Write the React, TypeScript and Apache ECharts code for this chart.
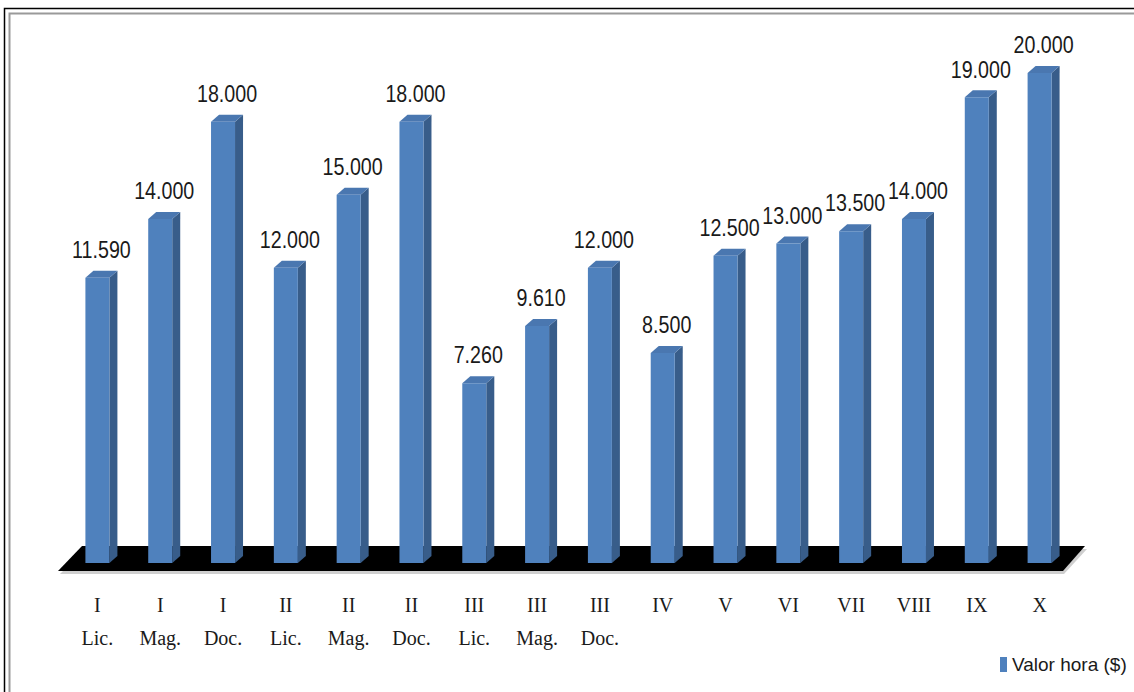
import React, { useEffect, useRef } from "react";
import * as echarts from "echarts";

const categories: string[] = [
  "I\nLic.", "I\nMag.", "I\nDoc.",
  "II\nLic.", "II\nMag.", "II\nDoc.",
  "III\nLic.", "III\nMag.", "III\nDoc.",
  "IV", "V", "VI", "VII", "VIII", "IX", "X",
];
const values: number[] = [
  11590, 14000, 18000,
  12000, 15000, 18000,
  7260, 9610, 12000,
  8500, 12500, 13000, 13500, 14000, 19000, 20000,
];
const seriesName = "Valor hora ($)";

function fmt(v: number): string {
  const th = Math.floor(v / 1000);
  const rest = String(v % 1000).padStart(3, "0");
  return th > 0 ? `${th}.${rest}` : String(v);
}

const FRONT = "#4F81BD";
const SIDE = "#385D8A";
const TOP = "#4A77B0";
const SANS = "'Liberation Sans', Arial, sans-serif";

export default function App() {
  const ref = useRef<HTMLDivElement>(null);
  useEffect(() => {
    if (!ref.current) return;
    const chart = echarts.init(ref.current, undefined, { renderer: "svg" });
    const option: any = {
      animation: false,
      backgroundColor: "#ffffff",
      grid: { left: 66, right: 63, top: 73, bottom: 132, containLabel: false },
      xAxis: {
        type: "category",
        data: categories,
        axisLine: { show: false },
        axisTick: { show: false },
        axisLabel: {
          interval: 0,
          margin: 28,
          fontFamily: "'Liberation Serif', 'Times New Roman', serif",
          fontSize: 20,
          lineHeight: 33,
          color: "#1a1a1a",
          verticalAlign: "top",
        },
      },
      yAxis: {
        type: "value",
        min: 0,
        max: 20000,
        show: false,
        splitLine: { show: false },
      },
      legend: {
        show: true,
        left: 995,
        top: 650,
        icon: "rect",
        itemWidth: 7,
        itemHeight: 15,
        data: [{ name: seriesName, itemStyle: { color: FRONT } }],
        textStyle: { fontFamily: SANS, fontSize: 19, color: "#1a1a1a" },
      },
      graphic: [
        {
          type: "rect",
          z: -10,
          shape: { x: 4.5, y: 8.5, width: 1140, height: 700 },
          style: { fill: "none", stroke: "#000", lineWidth: 1.5 },
        },
        {
          type: "rect",
          z: -10,
          shape: { x: 9.5, y: 13.5, width: 1140, height: 700 },
          style: { fill: "none", stroke: "#9a9a9a", lineWidth: 2 },
        },
        {
          type: "polygon",
          z: -5,
          shape: { points: [[60, 574], [85, 549], [1087, 549], [1064, 574]] },
          style: { fill: "#cfcfcf" },
        },
        {
          type: "polygon",
          z: -4,
          shape: { points: [[58, 571], [82, 546], [1085, 546], [1063, 571]] },
          style: { fill: "#000000" },
        },
      ],
      series: [
        {
          name: seriesName,
          type: "custom",
          z: 5,
          itemStyle: { color: FRONT },
          data: values.map((v, i) => [i, v]),
          encode: { x: 0, y: 1 },
          renderItem: (params: any, api: any) => {
            const idx = api.value(0);
            const val = api.value(1);
            const base = api.coord([idx, 0]);
            const top = api.coord([idx, val]);
            const cx = base[0];
            const w = 24;
            const dx = 8;
            const dy = 7;
            const x0 = cx - w / 2;
            const x1 = cx + w / 2;
            const yb = base[1] + 3;
            const yt = top[1];
            return {
              type: "group",
              children: [
                {
                  type: "polygon",
                  shape: { points: [[x1, yt], [x1 + dx, yt - dy], [x1 + dx, yb - dy], [x1, yb]] },
                  style: { fill: SIDE },
                },
                {
                  type: "polygon",
                  shape: { points: [[x0, yt], [x1, yt], [x1 + dx, yt - dy], [x0 + dx, yt - dy]] },
                  style: { fill: TOP },
                },
                {
                  type: "rect",
                  shape: { x: x0, y: yt, width: w, height: yb - yt },
                  style: { fill: FRONT },
                },
                {
                  type: "text",
                  x: cx + 4,
                  y: yt - 16,
                  scaleX: 0.82,
                  style: {
                    text: fmt(val),
                    fontFamily: SANS,
                    fontSize: 24,
                    fill: "#1a1a1a",
                    align: "center",
                    verticalAlign: "bottom",
                  },
                },
              ],
            };
          },
        },
      ],
    };
    chart.setOption(option);
    return () => chart.dispose();
  }, []);
  return (
    <div
      ref={ref}
      style={{ position: "fixed", left: 0, top: 0, width: 1134, height: 692 }}
    />
  );
}
